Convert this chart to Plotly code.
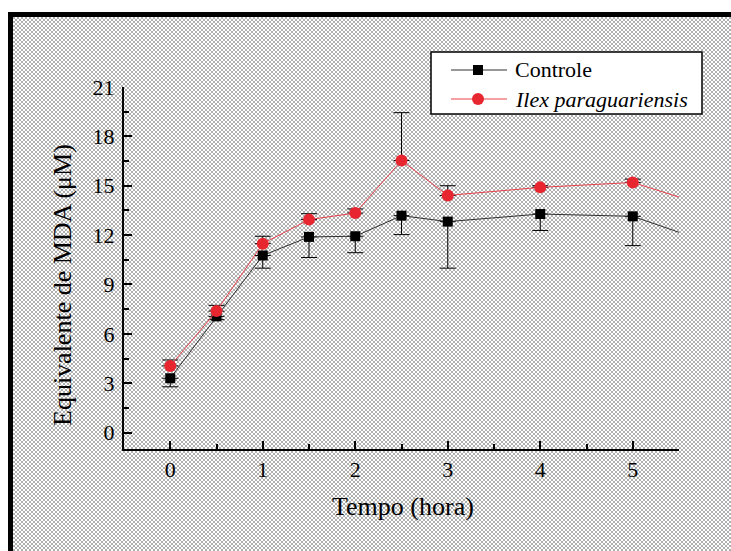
import base64
import struct
import zlib
import plotly.graph_objects as go

# Time points (hours); the last point lies past the axis end and is clipped
tempo = [0, 0.5, 1, 1.5, 2, 2.5, 3, 4, 5, 6]

controle = [3.3, 7.06, 10.76, 11.89, 11.93, 13.18, 12.82, 13.28, 13.14, 11.2]
controle_err = [0.52, 0.2, 0.77, 1.25, 1.0, 1.15, 2.83, 1.0, 1.78, 0]

ilex = [4.05, 7.38, 11.48, 12.94, 13.34, 16.53, 14.41, 14.9, 15.2, 13.42]
ilex_err = [0.36, 0.35, 0.45, 0.36, 0.25, 2.91, 0.59, 0.1, 0.2, 0]

zeros = [0] * len(tempo)

series_names = ["Controle", "<i>Ilex paraguariensis</i>"]
line_colors = ["#303030", "#e8404a"]
marker_colors = ["black", "#e8262f"]

W, H = 731, 551
L, R, T, B = 124, 52, 87, 102
PW, PH = W - L - R, H - T - B


def px_to_paper_x(px):
    return (px - L) / PW


def px_to_paper_y(py):
    return (H - B - py) / PH


def halftone_png(w, h, dark=176, light=255):
    """Grayscale PNG with a staggered 2x2 dot screen."""
    rows = []
    for y in range(h):
        row = bytearray([0])
        for x in range(w):
            row.append(dark if ((x // 2) + (y // 2)) % 2 == 0 else light)
        rows.append(bytes(row))
    raw = b"".join(rows)

    def chunk(tag, data):
        c = struct.pack(">I", len(data)) + tag + data
        return c + struct.pack(">I", zlib.crc32(tag + data) & 0xFFFFFFFF)

    png = b"\x89PNG\r\n\x1a\n"
    png += chunk(b"IHDR", struct.pack(">IIBBBBB", w, h, 8, 0, 0, 0, 0))
    png += chunk(b"IDAT", zlib.compress(raw, 9))
    png += chunk(b"IEND", b"")
    return "data:image/png;base64," + base64.b64encode(png).decode()


SERIF = "Liberation Serif"

fig = go.Figure()

fig.add_trace(go.Scatter(
    x=tempo, y=controle, name=series_names[0], mode="lines+markers",
    line=dict(color=line_colors[0], width=1),
    marker=dict(symbol="square", size=10, color=marker_colors[0]),
    error_y=dict(type="data", symmetric=False, array=zeros, arrayminus=controle_err,
                 color="black", thickness=1, width=8),
    showlegend=False,
))

fig.add_trace(go.Scatter(
    x=tempo, y=ilex, name=series_names[1], mode="lines+markers",
    line=dict(color=line_colors[1], width=1),
    marker=dict(symbol="circle", size=12, color=marker_colors[1]),
    error_y=dict(type="data", symmetric=False, array=ilex_err, arrayminus=zeros,
                 color="black", thickness=1, width=8),
    showlegend=False,
))

# halftone dotted backdrop inside the frame
BG_X, BG_Y = 13, 17
fig.add_layout_image(dict(
    source=halftone_png(W - BG_X, H - BG_Y), xref="paper", yref="paper",
    x=px_to_paper_x(BG_X), y=px_to_paper_y(BG_Y),
    sizex=(W - BG_X) / PW, sizey=(H - BG_Y) / PH,
    xanchor="left", yanchor="top", sizing="stretch", layer="below",
))

# thick outer frame: left and top edges
fig.add_shape(type="line", xref="paper", yref="paper",
              x0=px_to_paper_x(10.5), x1=px_to_paper_x(10.5),
              y0=px_to_paper_y(H), y1=px_to_paper_y(12),
              line=dict(color="black", width=5), layer="below")
fig.add_shape(type="line", xref="paper", yref="paper",
              x0=px_to_paper_x(8), x1=px_to_paper_x(W),
              y0=px_to_paper_y(14.5), y1=px_to_paper_y(14.5),
              line=dict(color="black", width=5), layer="below")

# legend box with line/marker samples and labels
LX0, LX1, LY0, LY1 = 431, 702, 52, 114
fig.add_shape(type="rect", xref="paper", yref="paper",
              x0=px_to_paper_x(LX0), x1=px_to_paper_x(LX1),
              y0=px_to_paper_y(LY1), y1=px_to_paper_y(LY0),
              line=dict(color="black", width=1.5), fillcolor="white")
rows = [70, 99]
for i, ry in enumerate(rows):
    fig.add_shape(type="line", xref="paper", yref="paper",
                  x0=px_to_paper_x(451), x1=px_to_paper_x(507),
                  y0=px_to_paper_y(ry), y1=px_to_paper_y(ry),
                  line=dict(color=line_colors[i], width=1))
    half = 5 if i == 0 else 6
    fig.add_shape(type="rect" if i == 0 else "circle", xref="paper", yref="paper",
                  x0=px_to_paper_x(478 - half), x1=px_to_paper_x(478 + half),
                  y0=px_to_paper_y(ry + half), y1=px_to_paper_y(ry - half),
                  line=dict(width=0), fillcolor=marker_colors[i])
    fig.add_annotation(text=series_names[i], xref="paper", yref="paper",
                       x=px_to_paper_x(513), y=px_to_paper_y(ry),
                       xanchor="left", yanchor="middle", showarrow=False,
                       font=dict(family=SERIF, size=22, color="black"))

fig.add_annotation(text="Tempo (hora)", xref="paper", yref="paper",
                   x=px_to_paper_x(403), y=px_to_paper_y(506),
                   showarrow=False, font=dict(family=SERIF, size=26, color="black"),
                   xanchor="center", yanchor="middle")
fig.add_annotation(text="Equivalente de MDA (μM)", xref="paper", yref="paper",
                   x=px_to_paper_x(62), y=px_to_paper_y(285), textangle=-90,
                   showarrow=False, font=dict(family=SERIF, size=26, color="black"),
                   xanchor="center", yanchor="middle")

axis_common = dict(
    showgrid=False, zeroline=False, showline=True, linecolor="black", linewidth=2,
    ticks="inside", ticklen=8, tickwidth=1.5, tickcolor="black",
    tickfont=dict(family=SERIF, size=22, color="black"),
)

fig.update_xaxes(range=[-0.5, 5.5], tickmode="array", tickvals=[0, 1, 2, 3, 4, 5],
                 minor=dict(dtick=0.5, ticks="inside", ticklen=5, tickwidth=1.5, tickcolor="black"),
                 ticklabelstandoff=0, **axis_common)
fig.update_yaxes(range=[-1, 21], tickmode="array", tickvals=[0, 3, 6, 9, 12, 15, 18, 21],
                 minor=dict(tickvals=[1.5, 4.5, 7.5, 10.5, 13.5, 16.5, 19.5], ticks="inside",
                            ticklen=5, tickwidth=1.5, tickcolor="black"),
                 ticklabelstandoff=3, **axis_common)

fig.update_layout(
    width=W, height=H,
    margin=dict(l=L, r=R, t=T, b=B),
    font=dict(family=SERIF, color="black"),
    paper_bgcolor="white", plot_bgcolor="rgba(0,0,0,0)",
    showlegend=False,
)

fig.write_html("out.html")
